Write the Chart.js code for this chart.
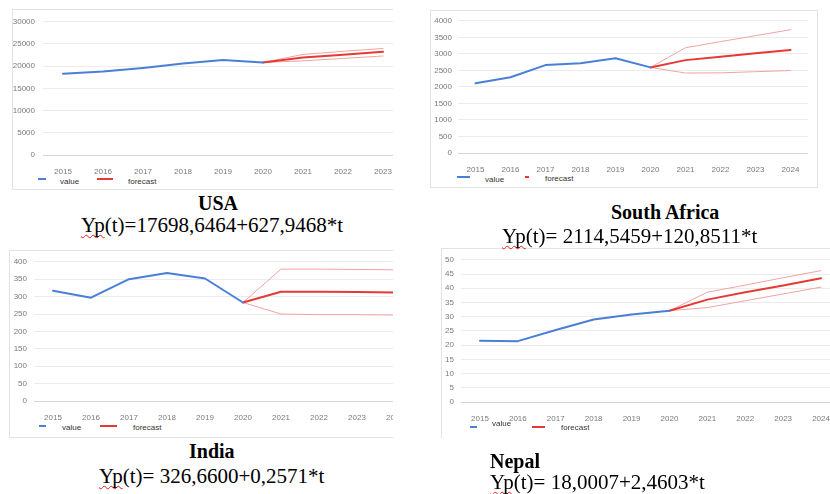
<!DOCTYPE html>
<html>
<head>
<meta charset="utf-8">
<script src="https://cdn.jsdelivr.net/npm/chart.js@4.4.1/dist/chart.umd.min.js"></script>
<style>
  html, body { margin: 0; padding: 0; background: #fff; }
  body { width: 830px; height: 494px; position: relative; overflow: hidden;
         font-family: "Liberation Sans", Arial, sans-serif; }
  .panel { position: absolute; background: #fff; overflow: hidden; box-sizing: border-box; z-index: 1; }
  .panel canvas { position: absolute; }
  .lg-line { position: absolute; height: 2px; }
  .lg-text { position: absolute; font-size: 8px; line-height: 8px; color: #333; white-space: nowrap; }
  .cap { position: absolute; font-family: "Liberation Serif", "Times New Roman", serif;
         color: #000; white-space: nowrap; z-index: 2; }
  .title { font-weight: bold; font-size: 20px; line-height: 20px; }
  .eq { font-size: 21px; line-height: 21px; }
  .sq { text-decoration-line: underline; text-decoration-style: wavy; text-decoration-color: #e02020;
        text-decoration-thickness: 1px; text-underline-offset: 2px; text-decoration-skip-ink: none; }
</style>
</head>
<body>
<script>
// ---- data ----
const years9 = ['2015', '2016', '2017', '2018', '2019', '2020', '2021', '2022', '2023'];
const years10 = ['2015', '2016', '2017', '2018', '2019', '2020', '2021', '2022', '2023', '2024'];
const seriesNames = ['value', 'forecast'];
const countries = ['USA', 'South Africa', 'India', 'Nepal'];
const equations = [
  ['Yp', '(t)=17698,6464+627,9468*t'],
  ['Yp', '(t)= 2114,5459+120,8511*t'],
  ['Yp', '(t)= 326,6600+0,2571*t'],
  ['Yp', '(t)= 18,0007+2,4603*t']
];

const usaValue    = [18300, 18800, 19600, 20600, 21400, 20850, null, null, null];
const usaForecast = [null, null, null, null, null, 20850, 21950, 22600, 23250];
const usaUpper    = [null, null, null, null, null, 20850, 22650, 23350, 24000];
const usaLower    = [null, null, null, null, null, 20850, 21200, 21750, 22300];
const usaTicks    = { max: 30000, step: 5000 };

const zafValue    = [2110, 2290, 2660, 2715, 2865, 2590, null, null, null, null];
const zafForecast = [null, null, null, null, null, 2590, 2810, 2915, 3015, 3120];
const zafUpper    = [null, null, null, null, null, 2590, 3185, 3370, 3550, 3730];
const zafLower    = [null, null, null, null, null, 2590, 2420, 2425, 2460, 2495];
const zafTicks    = { max: 4000, step: 500 };

const indValue    = [317, 297, 350, 368, 352, 283, null, null, null, null];
const indForecast = [null, null, null, null, null, 283, 314, 314, 313, 312];
const indUpper    = [null, null, null, null, null, 283, 379, 379, 378, 377];
const indLower    = [null, null, null, null, null, 283, 250, 248, 248, 247];
const indTicks    = { max: 400, step: 50 };

const nplValue    = [21.5, 21.4, 25.3, 29.0, 30.8, 32.1, null, null, null, null];
const nplForecast = [null, null, null, null, null, 32.1, 36.0, 38.6, 41.0, 43.5];
const nplUpper    = [null, null, null, null, null, 32.1, 38.6, 41.1, 43.7, 46.2];
const nplLower    = [null, null, null, null, null, 32.1, 33.2, 35.6, 38.0, 40.4];
const nplTicks    = { max: 50, step: 5 };

// ---- styling ----
const BLUE = '#4a7fd8';
const RED = '#e53935';
const PALE_RED = '#f2a3a3';
const TICK_FONT = { family: '"Liberation Sans", Arial, sans-serif', size: 8 };
const TICK_COLOR = '#7a7a7a';

function el(tag, cls, parent) {
  const e = document.createElement(tag);
  if (cls) e.className = cls;
  (parent || document.body).appendChild(e);
  return e;
}

function buildPanel(p) {
  const panel = el('div', 'panel');
  const b = p.borders;
  Object.assign(panel.style, {
    left: p.panel.x + 'px', top: p.panel.y + 'px',
    width: p.panel.w + 'px', height: p.panel.h + 'px',
    borderTop: b.includes('t') ? '1px solid #e3e3e3' : 'none',
    borderLeft: b.includes('l') ? '1px solid #e3e3e3' : 'none',
    borderRight: b.includes('r') ? '1px solid #e3e3e3' : 'none',
    borderBottom: b.includes('b') ? '1px solid #e3e3e3' : 'none'
  });
  const offX = p.panel.x + (b.includes('l') ? 1 : 0);
  const offY = p.panel.y + (b.includes('t') ? 1 : 0);

  const canvas = el('canvas', null, panel);
  canvas.width = p.canvas.w; canvas.height = p.canvas.h;
  canvas.style.left = (p.canvas.x - offX) + 'px';
  canvas.style.top = (p.canvas.y - offY) + 'px';
  canvas.style.width = p.canvas.w + 'px';
  canvas.style.height = p.canvas.h + 'px';

  new Chart(canvas, {
    type: 'line',
    data: {
      labels: p.labels,
      datasets: [
        { label: seriesNames[0], data: p.value, borderColor: BLUE, borderWidth: 2 },
        { label: seriesNames[1], data: p.forecast, borderColor: RED, borderWidth: 2 },
        { label: 'upper', data: p.upper, borderColor: PALE_RED, borderWidth: 1 },
        { label: 'lower', data: p.lower, borderColor: PALE_RED, borderWidth: 1 }
      ].map(d => Object.assign(d, {
        pointRadius: 0, tension: 0, fill: false, borderJoinStyle: 'round', borderCapStyle: 'round'
      }))
    },
    options: {
      responsive: false,
      animation: false,
      devicePixelRatio: 1,
      layout: { padding: { top: p.padTop, left: 0, right: 0, bottom: 0 } },
      plugins: { legend: { display: false }, tooltip: { enabled: false } },
      scales: {
        x: {
          offset: true,
          grid: { display: false },
          border: { display: false },
          ticks: { font: TICK_FONT, color: TICK_COLOR, padding: 4, maxRotation: 0, autoSkip: false },
          afterFit(s) { s.height = 20; }
        },
        y: {
          min: 0, max: p.ticks.max,
          grid: {
            drawTicks: false,
            color: ctx => (ctx.tick && ctx.tick.value === 0) ? '#d4d4d4' : '#ececec',
            lineWidth: 1
          },
          border: { display: false },
          ticks: {
            stepSize: p.ticks.step, font: TICK_FONT, color: TICK_COLOR, padding: p.yPad,
            callback: v => String(v)
          },
          afterFit(s) { s.width = p.yAxisW; }
        }
      }
    }
  });

  // legend (value / forecast)
  p.legend.forEach(item => {
    if (item.kind === 'line') {
      const ln = el('div', 'lg-line', panel);
      Object.assign(ln.style, {
        left: (item.x - offX) + 'px', top: (item.y - 1 - offY) + 'px',
        width: item.w + 'px', background: item.color
      });
    } else {
      const t = el('div', 'lg-text', panel);
      t.textContent = item.text;
      t.style.left = (item.x - offX) + 'px';
      t.style.top = (item.y - 4 - offY) + 'px';
    }
  });

  // caption: country name and trend equation
  const title = el('div', 'cap title');
  title.textContent = p.name;
  const eq = el('div', 'cap eq');
  const sq = el('span', 'sq', eq);
  sq.textContent = p.equation[0];
  eq.appendChild(document.createTextNode(p.equation[1]));
  [[title, p.titlePos], [eq, p.eqPos]].forEach(([node, pos]) => {
    const left = pos.center ? Math.round(pos.x - node.offsetWidth / 2) : pos.x;
    node.style.left = left + 'px';
    node.style.top = pos.y + 'px';
  });
}

const legendOf = (bx, bw, vx, vy, rx, rw, fx, fy, ly) => [
  { kind: 'line', x: bx, y: ly, w: bw, color: BLUE },
  { kind: 'text', x: vx, y: vy, text: seriesNames[0] },
  { kind: 'line', x: rx, y: ly, w: rw, color: RED },
  { kind: 'text', x: fx, y: fy, text: seriesNames[1] }
];

buildPanel({
  name: countries[0], equation: equations[0],
  labels: years9, value: usaValue, forecast: usaForecast, upper: usaUpper, lower: usaLower, ticks: usaTicks,
  panel: { x: 12, y: 9, w: 381, h: 181 }, borders: 'tlb',
  canvas: { x: 12, y: 9, w: 391, h: 166 }, yAxisW: 31, padTop: 9, yPad: 8,
  legend: legendOf(38, 8, 60, 182, 97, 16, 128, 182, 179),
  titlePos: { x: 218, y: 193, center: true }, eqPos: { x: 212, y: 215, center: true }
});

buildPanel({
  name: countries[1], equation: equations[1],
  labels: years10, value: zafValue, forecast: zafForecast, upper: zafUpper, lower: zafLower, ticks: zafTicks,
  panel: { x: 430, y: 10, w: 388, h: 178 }, borders: 'tlrb',
  canvas: { x: 430, y: 10, w: 378, h: 163 }, yAxisW: 28, padTop: 8, yPad: 6,
  legend: legendOf(457, 13, 485, 180, 525, 4, 545, 179, 177),
  titlePos: { x: 665, y: 202, center: true }, eqPos: { x: 629, y: 226, center: true }
});

buildPanel({
  name: countries[2], equation: equations[2],
  labels: years10, value: indValue, forecast: indForecast, upper: indUpper, lower: indLower, ticks: indTicks,
  panel: { x: 9, y: 250, w: 384, h: 188 }, borders: 'tlb',
  canvas: { x: 9, y: 250, w: 405, h: 171 }, yAxisW: 25, padTop: 9, yPad: 7,
  legend: legendOf(39, 7, 62, 428, 100, 17, 133, 428, 426),
  titlePos: { x: 212, y: 441, center: true }, eqPos: { x: 211, y: 466, center: true }
});

buildPanel({
  name: countries[3], equation: equations[3],
  labels: years10, value: nplValue, forecast: nplForecast, upper: nplUpper, lower: nplLower, ticks: nplTicks,
  panel: { x: 441, y: 248, w: 389, h: 190 }, borders: 'tl',
  canvas: { x: 441, y: 248, w: 399, h: 174 }, yAxisW: 20, padTop: 9, yPad: 7,
  legend: legendOf(470, 7, 492, 424, 532, 13, 561, 428, 427),
  titlePos: { x: 490, y: 451 }, eqPos: { x: 490, y: 472 }
});
</script>
</body>
</html>
